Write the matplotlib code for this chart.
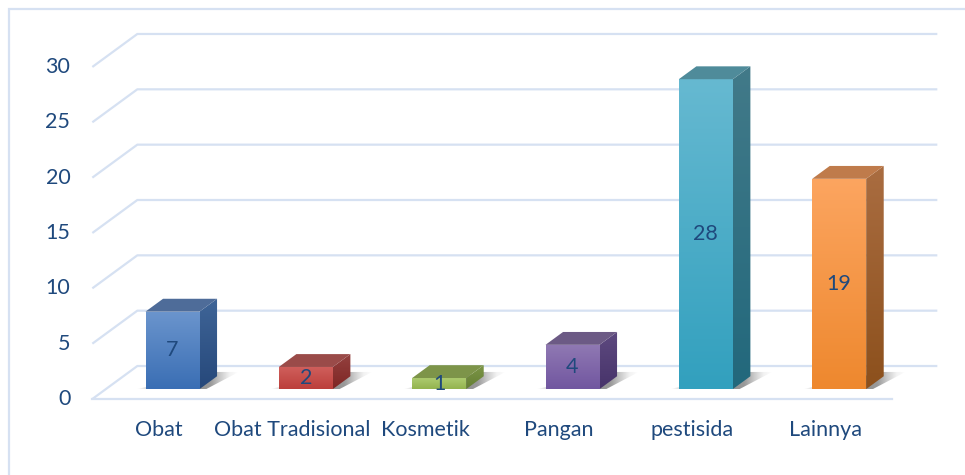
import numpy as np
import matplotlib
matplotlib.use("Agg")
import matplotlib.pyplot as plt
from matplotlib.patches import Polygon, Rectangle
from matplotlib.colors import to_rgb

# data
categories = ["Obat", "Obat Tradisional", "Kosmetik", "Pangan", "pestisida", "Lainnya"]
values = [7, 2, 1, 4, 28, 19]
y_ticks = [0, 5, 10, 15, 20, 25, 30]

# colours per bar: front top, front bottom, side top, side bottom, top face
front_top = ["#6B95CD", "#D0605D", "#AFCC72", "#9079B3", "#66B9D1", "#FCA560"]
front_bot = ["#3A6EB4", "#BC3F3B", "#93B44E", "#7156A0", "#32A0BE", "#EE882E"]
side_top = ["#3F6598", "#94413F", "#7C9647", "#5E4A80", "#427A89", "#AA6D41"]
side_bot = ["#26487A", "#7E2624", "#647E33", "#47336A", "#22687C", "#8C501C"]
top_col = ["#4E6C99", "#9A4B49", "#7D9449", "#6C5A85", "#4F8B9A", "#BF7B4B"]

text_col = "#1F497D"
grid_col = "#D6E1F2"
font = "Lato"
fs = 15.5

# projection: depth z in [0, 1] shifts by (DX, DY) in data units
DX, DY = 0.3375, 2.98
bar_w = 0.405
z0, z1 = 0.30, 0.69


def proj(x, y, z):
    return (x + z * DX, y + z * DY)


fig = plt.figure(figsize=(9.65, 4.75), dpi=100)
ax = fig.add_axes([0, 0, 1, 1])
ax.set_xlim(-1.1925, 6.045)
ax.set_ylim(-6.867, 36.05)
ax.axis("off")

# border
fig.patches.append(Rectangle((9 / 965, -0.1), 1.2, 1 - 9 / 475 + 0.1,
                             transform=fig.transFigure, fill=False,
                             ec=grid_col, lw=1.6))

n = len(categories)
xl, xr = -0.5, n - 0.5

# gridlines (left wall diagonals + back wall)
for v in y_ticks:
    p0 = proj(xl, v, 0)
    p1 = proj(xl, v, 1)
    p2 = proj(xr, v, 1)
    ax.plot([p0[0], p1[0], p2[0]], [p0[1], p1[1], p2[1]], color=grid_col,
            lw=1.6, zorder=1, solid_capstyle="butt")
    ax.text(-0.665, v, str(v), ha="right", va="center", fontsize=fs,
            color=text_col, family=font)
ax.plot([xl, xr], [0, 0], color=grid_col, lw=1.6, zorder=1)


def grad_fill(poly_pts, c_start, c_end, direction="v", alpha=None, zorder=3):
    poly = Polygon(poly_pts, closed=True, fc="none", ec="none")
    ax.add_patch(poly)
    pts = np.array(poly_pts)
    x0, x1 = pts[:, 0].min(), pts[:, 0].max()
    y0, y1 = pts[:, 1].min(), pts[:, 1].max()
    t = np.linspace(0, 1, 128)
    a = np.array(to_rgb(c_start))
    b = np.array(to_rgb(c_end))
    if direction == "v":
        img = (a[None, :] * (1 - t[:, None]) + b[None, :] * t[:, None])[:, None, :]
    else:
        img = (a[None, :] * (1 - t[:, None]) + b[None, :] * t[:, None])[None, :, :]
    if alpha is not None:
        al = np.interp(t, np.linspace(0, 1, len(alpha)), alpha)
        if direction == "v":
            al = al[:, None, None]
        else:
            al = al[None, :, None]
        img = np.concatenate([np.broadcast_to(img, (img.shape[0], img.shape[1], 3)), al], axis=2)
    im = ax.imshow(img, extent=(x0, x1, y0, y1), origin="upper", aspect="auto",
                   interpolation="bilinear", zorder=zorder)
    im.set_clip_path(poly)


shadow_alpha = [0.0, 0.15, 0.25, 0.3, 0.35, 0.4, 0.48, 0.58, 0.55, 0.3, 0.08, 0.0]

for i, (cat, v) in enumerate(zip(categories, values)):
    x0 = i - bar_w / 2
    x1 = i + bar_w / 2

    # shadow on floor
    sh = [proj(x0 - 0.07, 0, z0), proj(x1 + 0.05, 0, z0),
          proj(x1 + 0.12, 0, 0.82), proj(x1 - 0.05, 0, 0.82)]
    grad_fill(sh, "#303030", "#505050", direction="h",
              alpha=shadow_alpha, zorder=2)

    # front face
    f = [proj(x0, 0, z0), proj(x1, 0, z0), proj(x1, v, z0), proj(x0, v, z0)]
    grad_fill(f, front_top[i], front_bot[i], zorder=3)
    # side face
    s = [proj(x1, 0, z0), proj(x1, 0, z1), proj(x1, v, z1), proj(x1, v, z0)]
    grad_fill(s, side_top[i], side_bot[i], zorder=3)
    # top face
    t = [proj(x0, v, z0), proj(x1, v, z0), proj(x1, v, z1), proj(x0, v, z1)]
    ax.add_patch(Polygon(t, closed=True, fc=top_col[i], ec="none", zorder=3))

    cx, cy = proj(i, v / 2, z0)
    ax.text(cx, cy, str(v), ha="center", va="center", fontsize=fs,
            color=text_col, family=font, zorder=5)

    ax.text(i, -2.8, cat, ha="center", va="center", fontsize=fs,
            color=text_col, family=font)

fig.savefig("out.png", dpi=100)
